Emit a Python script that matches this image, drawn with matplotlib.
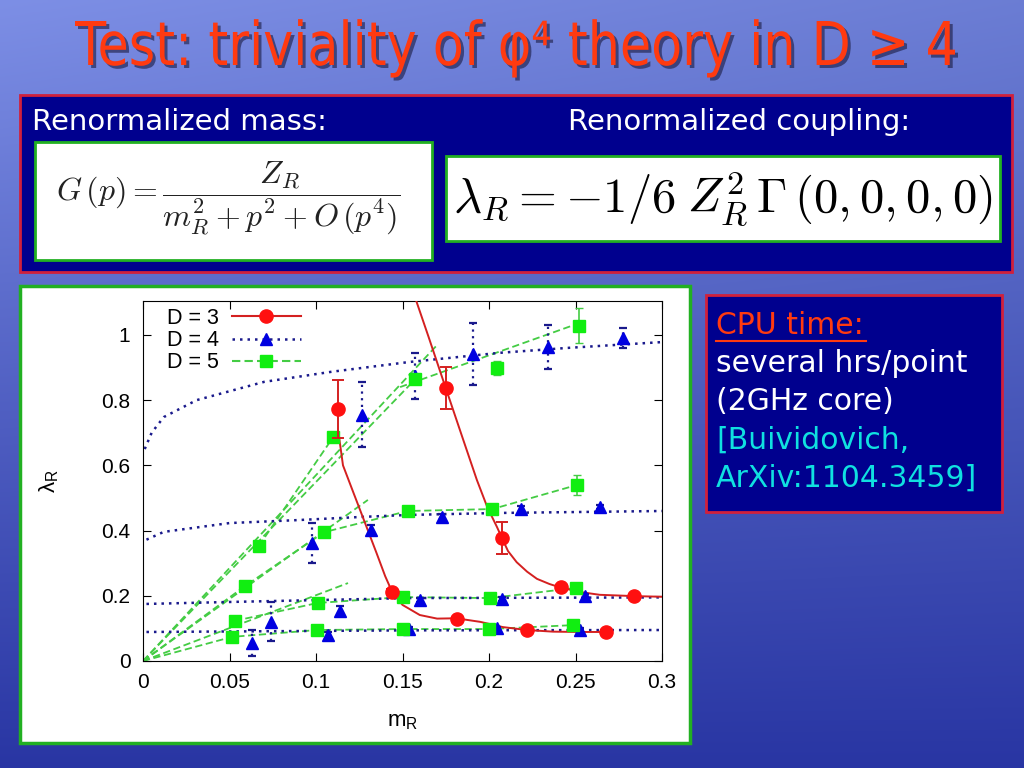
import numpy as np
import matplotlib.pyplot as plt
from matplotlib.patches import Rectangle, PathPatch
from matplotlib.lines import Line2D
from matplotlib.ticker import FuncFormatter
from matplotlib.textpath import TextPath
from matplotlib.font_manager import FontProperties
from matplotlib.transforms import Affine2D

# ---- data ----
# D = 3 (red circles)
d3_x = [0.113, 0.144, 0.175, 0.1815, 0.2075, 0.222, 0.2416, 0.2676, 0.284]
d3_y = [0.773, 0.212, 0.837, 0.129, 0.377, 0.095, 0.227, 0.089, 0.200]
d3_err = [0.09, 0.01, 0.065, 0.005, 0.05, 0.005, 0.006, 0.005, 0.005]
# red smooth curves through the points
d3_curve1_x = [0.155, 0.165, 0.175, 0.185, 0.193, 0.199, 0.2046, 0.2075, 0.211, 0.216,
               0.222, 0.2277, 0.235, 0.241, 0.252, 0.264, 0.284, 0.300]
d3_curve1_y = [1.150, 0.995, 0.837, 0.680, 0.555, 0.472, 0.411, 0.377, 0.337, 0.303,
               0.274, 0.252, 0.236, 0.226, 0.212, 0.203, 0.199, 0.197]
d3_curve2_x = [0.113, 0.1156, 0.121, 0.127, 0.135, 0.140, 0.144, 0.150, 0.160, 0.170, 0.181,
               0.195, 0.208, 0.222, 0.237, 0.252, 0.2676]
d3_curve2_y = [0.700, 0.600, 0.525, 0.442, 0.331, 0.260, 0.212, 0.172, 0.141, 0.130, 0.131,
               0.120, 0.104, 0.095, 0.090, 0.089, 0.089]

# D = 4 (blue triangles), four series
d4_x = [[0.1266, 0.157, 0.191, 0.234, 0.2775],
        [0.0977, 0.132, 0.173, 0.2185, 0.264],
        [0.074, 0.114, 0.160, 0.2075, 0.2555],
        [0.063, 0.107, 0.154, 0.2045, 0.2526]]
d4_y = [[0.755, 0.875, 0.942, 0.963, 0.991],
        [0.362, 0.402, 0.442, 0.466, 0.472],
        [0.120, 0.153, 0.187, 0.190, 0.200],
        [0.055, 0.080, 0.098, 0.100, 0.095]]
d4_err = [[0.10, 0.07, 0.095, 0.066, 0.03],
          [0.06, 0.015, 0.01, 0.01, 0.006],
          [0.06, 0.015, 0.006, 0.006, 0.006],
          [0.04, 0.01, 0.005, 0.005, 0.005]]
# blue dotted fit curves
d4_fit_x = [[0.001, 0.005, 0.012, 0.031, 0.070, 0.109, 0.154, 0.206, 0.245, 0.300],
            [0.002, 0.012, 0.050, 0.089, 0.127, 0.154, 0.206, 0.300],
            [0.002, 0.050, 0.154, 0.300],
            [0.002, 0.154, 0.300]]
d4_fit_y = [[0.650, 0.700, 0.748, 0.800, 0.856, 0.887, 0.917, 0.945, 0.960, 0.978],
            [0.372, 0.396, 0.423, 0.432, 0.442, 0.448, 0.454, 0.460],
            [0.175, 0.181, 0.193, 0.195],
            [0.089, 0.094, 0.095]]

# D = 5 (green squares), four series
d5_x = [[0.067, 0.110, 0.157, 0.2045, 0.252],
        [0.059, 0.1047, 0.153, 0.202, 0.251],
        [0.053, 0.101, 0.150, 0.2006, 0.250],
        [0.0515, 0.1006, 0.150, 0.200, 0.2486]]
d5_y = [[0.353, 0.687, 0.865, 0.899, 1.028],
        [0.230, 0.395, 0.460, 0.466, 0.540],
        [0.123, 0.178, 0.196, 0.193, 0.224],
        [0.074, 0.095, 0.098, 0.098, 0.110]]
d5_err = [[0.008, 0.015, 0.01, 0.022, 0.054],
          [0.005, 0.005, 0.008, 0.008, 0.03],
          [0.005, 0.005, 0.005, 0.005, 0.008],
          [0.005, 0.005, 0.005, 0.005, 0.008]]
# green dashed lines (fits and connections)
d5_line_x = [[0.0, 0.170], [0.0, 0.157], [0.067, 0.110], [0.1486, 0.2526],
             [0.0, 0.130], [0.0, 0.059, 0.1047, 0.153, 0.202, 0.251],
             [0.0, 0.1185], [0.053, 0.101, 0.150, 0.2006, 0.250],
             [0.0, 0.0515, 0.1006, 0.150, 0.200, 0.2486]]
d5_line_y = [[0.0, 0.969], [0.0, 0.862], [0.353, 0.687], [0.840, 1.037],
             [0.0, 0.494], [0.0, 0.230, 0.395, 0.460, 0.466, 0.540],
             [0.0, 0.239], [0.123, 0.178, 0.196, 0.193, 0.224],
             [0.0, 0.074, 0.095, 0.098, 0.098, 0.110]]

x_ticks = [0, 0.05, 0.1, 0.15, 0.2, 0.25, 0.3]
y_ticks = [0, 0.2, 0.4, 0.6, 0.8, 1]

red_line = '#d42020'
red_pt = '#ff1010'
blue_line = '#1a1a8c'
blue_pt = '#0000e0'
green_line = '#44cc44'
green_pt = '#11ee11'

fig = plt.figure(figsize=(10.24, 7.68), dpi=100)

# slide background
bg = fig.add_axes([0, 0, 1, 1])
t = np.linspace(0, 1, 256)[:, None]
s = np.linspace(0, 1, 256)[None, :]
top = np.array([0.42, 0.49, 0.83])
bot = np.array([0.16, 0.21, 0.64])
grad = top[None, None, :] * (1 - t[..., None]) + bot[None, None, :] * t[..., None]
grad = grad + 0.07 * (1 - s[..., None]) * (1 - t[..., None])
bg.imshow(np.clip(grad, 0, 1), extent=(0, 1024, 768, 0), aspect='auto')
bg.set_xlim(0, 1024)
bg.set_ylim(768, 0)
bg.axis('off')

navy = '#00008e'
box_red = '#d0203c'
box_green = '#22b022'
bg.add_patch(Rectangle((20, 95), 992, 177, fc=navy, ec=box_red, lw=2))
bg.add_patch(Rectangle((35, 142), 397, 118, fc='white', ec=box_green, lw=2))
bg.add_patch(Rectangle((446, 156), 554, 85, fc='white', ec=box_green, lw=2))
bg.add_patch(Rectangle((20, 286), 670, 457, fc='white', ec=box_green, lw=2.5))
bg.add_patch(Rectangle((706, 295), 296, 217, fc=navy, ec=box_red, lw=2))

# condensed title: text outline squeezed horizontally
title = 'Test: triviality of φ⁴ theory in D ≥ 4'
tp = TextPath((0, 0), title, size=100, prop=FontProperties(family='DejaVu Sans'))
ext = tp.get_extents()
sx = 880 / ext.width
sy = 44 / 72.9
tr = Affine2D().translate(-ext.x0, 0).scale(sx, -sy)
bg.add_patch(PathPatch(tr.transform_path(tp), transform=Affine2D().translate(78, 68) + bg.transData,
                       fc='#1a1a40', ec='none', alpha=0.6))
bg.add_patch(PathPatch(tr.transform_path(tp), transform=Affine2D().translate(75, 65) + bg.transData,
                       fc='#ff3a10', ec='none'))

bg.text(32, 122, 'Renormalized mass:', color='white', fontsize=21, va='center', ha='left')
bg.text(568, 122, 'Renormalized coupling:', color='white', fontsize=21, va='center', ha='left')
bg.text(228, 198, r'$G\,(p) = \dfrac{Z_R}{m_R^2 + p^2 + O\,(p^4)}$', fontsize=23,
        ha='center', va='center', math_fontfamily='cm', color='#222222')
bg.text(723, 199, r'$\lambda_R = -1/6\; Z_R^2\,\Gamma\,(0,0,0,0)$', fontsize=35,
        ha='center', va='center', math_fontfamily='cm', color='black')

bg.text(716, 325, 'CPU time:', color='#ff3a10', fontsize=21.5, va='center')
bg.plot([716, 866], [341, 341], color='#ff3a10', lw=1.5)
bg.text(716, 363, 'several hrs/point', color='white', fontsize=21.5, va='center')
bg.text(716, 401, '(2GHz core)', color='white', fontsize=21.5, va='center')
bg.text(716, 440, '[Buividovich,', color='#10e0e0', fontsize=21.5, va='center')
bg.text(716, 478, 'ArXiv:1104.3459]', color='#10e0e0', fontsize=21.5, va='center')

# the chart itself
ax = fig.add_axes([143 / 1024, 1 - 661 / 768, 519 / 1024, 360 / 768])
ax.set_facecolor('white')
plot_font = 'Liberation Sans'

for xs, ys in zip(d5_line_x, d5_line_y):
    ax.plot(xs, ys, color=green_line, ls=(0, (4, 2)), lw=1.3, zorder=2)
for xs, ys in zip(d4_fit_x, d4_fit_y):
    ax.plot(xs, ys, color=blue_line, ls=(0, (1, 2)), lw=1.8, zorder=2)
ax.plot(d3_curve1_x, d3_curve1_y, color=red_line, lw=1.4, zorder=3)
ax.plot(d3_curve2_x, d3_curve2_y, color=red_line, lw=1.4, zorder=3)

for xs, ys, es in zip(d4_x, d4_y, d4_err):
    c = ax.errorbar(xs, ys, yerr=es, fmt='^', ms=8.5, mfc=blue_pt, mec=blue_pt,
                    ecolor=blue_line, elinewidth=1.6, capsize=3, capthick=1.6, zorder=4)
    for lc in c[2]:
        lc.set_linestyle((0, (1, 2)))
for xs, ys, es in zip(d5_x, d5_y, d5_err):
    ax.errorbar(xs, ys, yerr=es, fmt='s', ms=8.5, mfc=green_pt, mec=green_pt,
                ecolor=green_line, elinewidth=1.2, capsize=3, zorder=5)
ax.errorbar(d3_x, d3_y, yerr=d3_err, fmt='o', ms=9.5, mfc=red_pt, mec=red_pt,
            ecolor=red_line, elinewidth=1.4, capsize=4, capthick=1.4, zorder=6)

ax.set_xlim(0, 0.3)
ax.set_ylim(0, 1.104)
ax.set_xticks(x_ticks)
ax.set_yticks(y_ticks)
fmt = FuncFormatter(lambda v, p: '%g' % v)
ax.xaxis.set_major_formatter(fmt)
ax.yaxis.set_major_formatter(fmt)
ax.tick_params(direction='in', top=True, right=True, length=6, labelsize=15, pad=9)
for lab in ax.get_xticklabels() + ax.get_yticklabels():
    lab.set_family(plot_font)
ax.set_xlabel(r'm$_\mathregular{R}$', fontsize=16, family=plot_font, labelpad=13)
ax.set_ylabel(r'λ$_\mathregular{R}$', fontsize=16, family=plot_font, labelpad=29)

handles = [
    Line2D([], [], color=red_line, ls='-', marker='o', ms=9.5, mfc=red_pt, mec=red_pt),
    Line2D([], [], color=blue_line, ls=(0, (1, 2)), lw=1.8, marker='^', ms=8.5, mfc=blue_pt, mec=blue_pt),
    Line2D([], [], color=green_line, ls=(0, (4, 2)), marker='s', ms=8.5, mfc=green_pt, mec=green_pt),
]
ax.legend(handles, ['D = 3', 'D = 4', 'D = 5'], loc='upper left',
          bbox_to_anchor=(24 / 519, (661 - 308) / 360), borderpad=0, borderaxespad=0,
          frameon=False, markerfirst=False, handlelength=3.2, labelspacing=0.05,
          prop={'family': plot_font, 'size': 15.5}, handletextpad=0.6)

fig.savefig('out.png', dpi=100)
